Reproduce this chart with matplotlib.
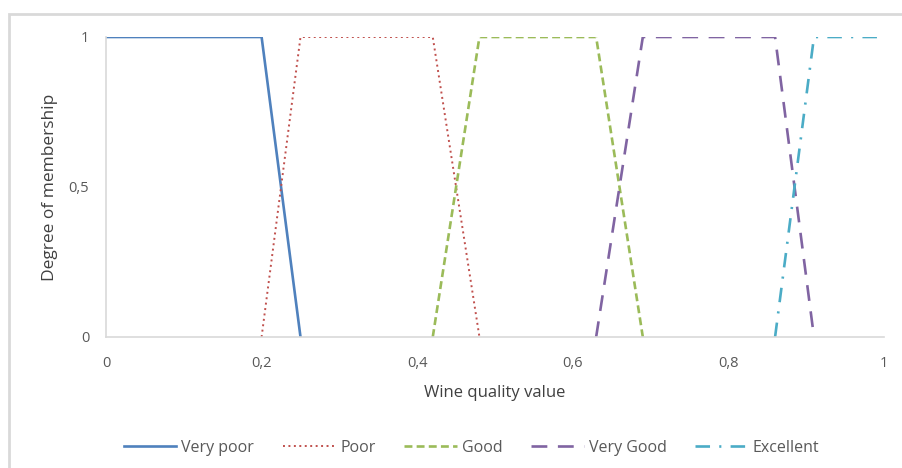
import matplotlib
matplotlib.use("Agg")
import matplotlib.pyplot as plt
from matplotlib.patches import Rectangle
from matplotlib.ticker import FuncFormatter

# membership functions (trapezoids) for each wine quality class
labels = ["Very poor", "Poor", "Good", "Very Good", "Excellent"]
x_very_poor = [0, 0.2, 0.25]
y_very_poor = [1, 1, 0]
x_poor = [0.2, 0.25, 0.42, 0.48]
y_poor = [0, 1, 1, 0]
x_good = [0.42, 0.48, 0.63, 0.69]
y_good = [0, 1, 1, 0]
x_very_good = [0.63, 0.69, 0.86, 0.91]
y_very_good = [0, 1, 1, 0]
x_excellent = [0.86, 0.91, 1]
y_excellent = [0, 1, 1]

x_ticks = [0, 0.2, 0.4, 0.6, 0.8, 1]
y_ticks = [0, 0.5, 1]

plt.rcParams['font.family'] = ['Open Sans', 'DejaVu Sans']

fig = plt.figure(figsize=(9.02, 4.68), dpi=100)
ax = fig.add_axes([106 / 902, 131 / 468, 778 / 902, 300 / 468])

# outer chart frame
fig.patches.append(Rectangle((9 / 902, -0.1), 1.0, (468 - 14) / 468 + 0.1,
                             transform=fig.transFigure, fill=False,
                             edgecolor="#d9d9d9", linewidth=2))

ax.plot(x_very_poor, y_very_poor, color="#4f81bd", lw=1.9, label=labels[0])
ax.plot(x_poor, y_poor, color="#c0504d", lw=1.4, linestyle=(0, (1, 1.8)), label=labels[1])
ax.plot(x_good, y_good, color="#9bbb59", lw=1.9, linestyle=(0, (3, 1.6)), label=labels[2])
ax.plot(x_very_good, y_very_good, color="#8064a2", lw=1.9, linestyle=(0, (6, 4)), label=labels[3])
ax.plot(x_excellent, y_excellent, color="#4bacc6", lw=1.9,
        linestyle=(0, (5.5, 3.5, 0.8, 3.5)), label=labels[4])

ax.set_xlim(0, 1)
ax.set_ylim(0, 1)
ax.set_xticks(x_ticks)
ax.set_yticks(y_ticks)
comma = FuncFormatter(lambda v, pos: f"{v:g}".replace(".", ","))
ax.xaxis.set_major_formatter(comma)
ax.yaxis.set_major_formatter(comma)
ax.tick_params(length=0, labelsize=10.5, colors="#595959")
ax.tick_params(axis="x", pad=14)
ax.tick_params(axis="y", pad=12)

for side in ["top", "right"]:
    ax.spines[side].set_visible(False)
for side in ["left", "bottom"]:
    ax.spines[side].set_color("#d9d9d9")
    ax.spines[side].set_linewidth(1.2)

ax.set_xlabel("Wine quality value", fontsize=12, color="#404040", labelpad=10)
ax.set_ylabel("Degree of membership", fontsize=12.5, color="#404040", labelpad=7.5)

ax.legend(loc="upper center", bbox_to_anchor=(0.47, -0.295), ncol=5, frameon=False,
          fontsize=11.5, handlelength=3.3, handletextpad=0.3, columnspacing=1.8,
          labelcolor="#595959")

fig.savefig("out.png", dpi=100)
